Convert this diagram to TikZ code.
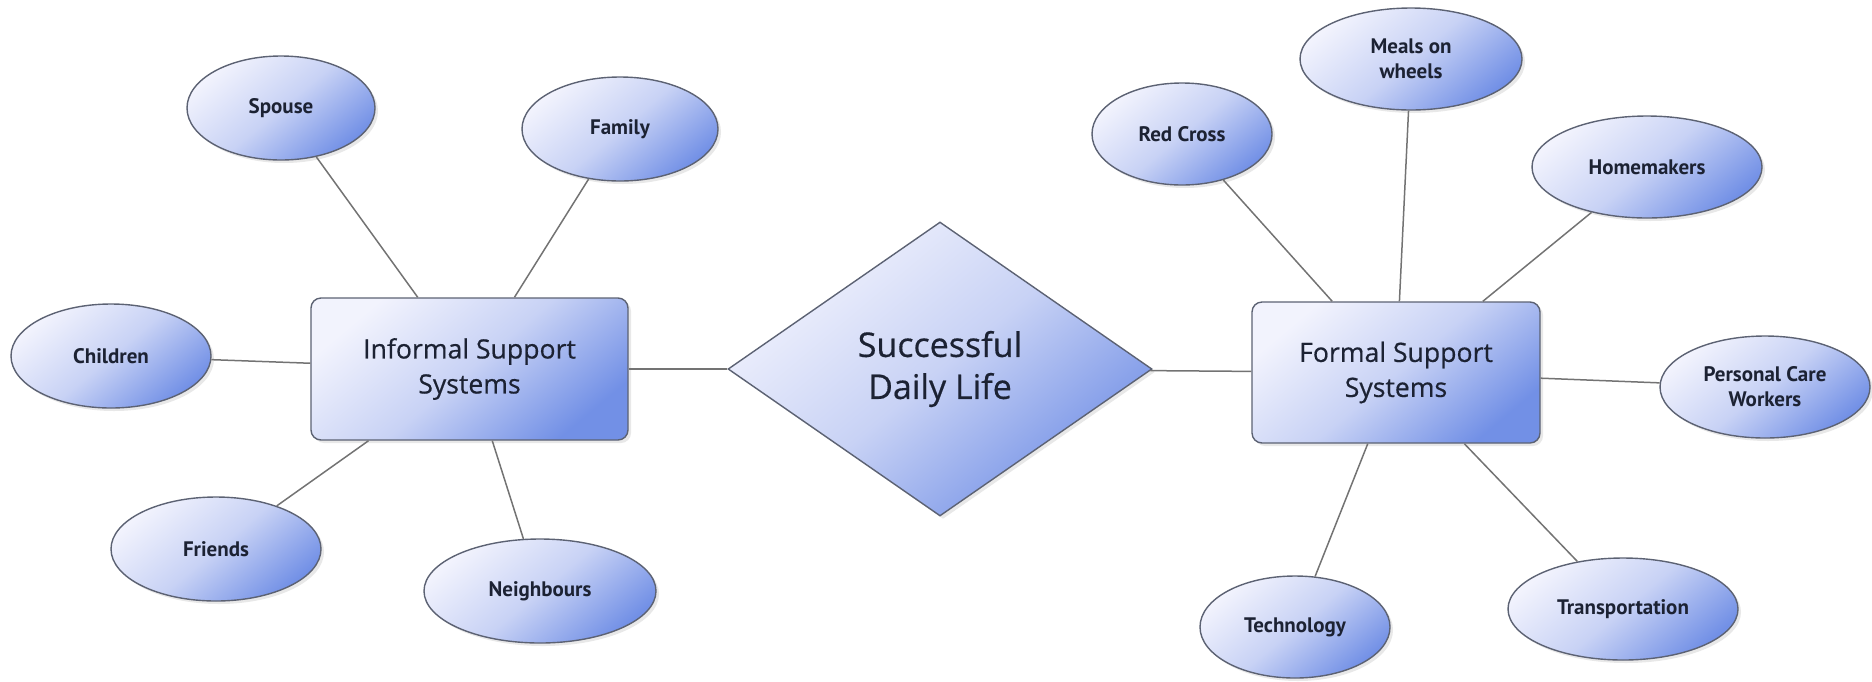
\documentclass[tikz,border=0pt]{standalone}
\usepackage{fontspec}
\newfontfamily\leaffont{PT Sans}
\newfontfamily\hubfont[FakeBold=0.5]{Open Sans}
\usetikzlibrary{shapes.geometric,shadows}

\definecolor{shadelight}{HTML}{F2F3FD}
\definecolor{shademid}{HTML}{C8D2F5}
\definecolor{shadedark}{HTML}{7290E6}
\definecolor{rim}{HTML}{5C6273}
\definecolor{wire}{HTML}{737373}
\definecolor{ink}{HTML}{1C2233}

\tikzset{
  bubble/.style={draw=rim, line width=0.7pt,
    top color=shadelight, bottom color=shadedark, middle color=shademid,
    shading angle=40,
    drop shadow={opacity=0.18, shadow xshift=1.5pt, shadow yshift=-1.5pt},
    text=ink, align=center, inner sep=0pt},
  leaf/.style={bubble, ellipse, font=\leaffont\bfseries\fontsize{10.5}{12.5}\selectfont},
  hub/.style={bubble, rectangle, rounded corners=5pt,
    font=\hubfont\fontsize{13.3}{17.5}\selectfont},
  core/.style={bubble, diamond, font=\hubfont\fontsize{17}{21}\selectfont},
  link/.style={draw=wire, line width=0.75pt}
}

\begin{document}
\begin{tikzpicture}[x=0.5pt,y=-0.5pt]
\useasboundingbox (0,0) rectangle (1872,681);

% centre and the two support groups
\node[core, minimum width=212pt, minimum height=147pt] (life) at (940,369) {Successful\\Daily Life};
\node[hub, minimum width=158.5pt, minimum height=71pt] (informal) at (469.5,369) {Informal Support\\Systems};
\node[hub, minimum width=144pt, minimum height=70.5pt] (formal) at (1396,372.5) {Formal Support\\Systems};

% informal supports
\node[leaf, minimum width=94pt, minimum height=52pt] (spouse) at (281,108) {Spouse};
\node[leaf, minimum width=98pt, minimum height=52pt] (family) at (620,129) {Family};
\node[leaf, minimum width=100pt, minimum height=52pt] (children) at (111,356) {Children};
\node[leaf, minimum width=105pt, minimum height=52pt] (friends) at (216,549) {Friends};
\node[leaf, minimum width=116pt, minimum height=52pt] (neighbours) at (540,591) {Neighbours};

% formal supports
\node[leaf, minimum width=90pt, minimum height=51pt] (redcross) at (1182,134) {Red Cross};
\node[leaf, minimum width=111pt, minimum height=51pt] (meals) at (1411,59) {Meals on\\wheels};
\node[leaf, minimum width=115pt, minimum height=51pt] (homemakers) at (1647,167) {Homemakers};
\node[leaf, minimum width=105pt, minimum height=51pt] (carers) at (1765,387) {Personal Care\\Workers};
\node[leaf, minimum width=95pt, minimum height=51pt] (technology) at (1295,627) {Technology};
\node[leaf, minimum width=115pt, minimum height=51pt] (transport) at (1623,609) {Transportation};

% connectors
\draw[link] (informal) -- (life);
\draw[link] (life) -- (formal);
\foreach \n in {spouse,family,children,friends,neighbours}
  \draw[link] (\n) -- (informal);
\foreach \n in {redcross,meals,homemakers,carers,technology,transport}
  \draw[link] (\n) -- (formal);
\end{tikzpicture}
\end{document}
